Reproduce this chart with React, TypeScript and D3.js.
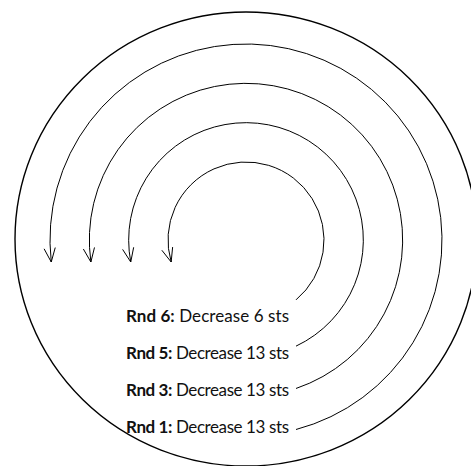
import React from "react";
import * as d3 from "d3";

// rounds listed from the innermost ring outwards
const rounds = ["Rnd 6:", "Rnd 5:", "Rnd 3:", "Rnd 1:"];
const steps = ["Decrease 6 sts", "Decrease 13 sts", "Decrease 13 sts", "Decrease 13 sts"];

const W = 471;
const H = 466;
const cx = 246;
const cy = 240;

function App() {
    const idx = d3.range(rounds.length);
    // ring radius per round
    const r = d3.scaleLinear().domain([0, rounds.length - 1]).range([78, 196]);
    // label baselines
    const ly = d3.scaleLinear().domain([0, rounds.length - 1]).range([322, 433]);

    const startDx = 50; // arcs start just right of the labels
    const tipDrop = 22; // arrow tips sit a bit under the centre line
    const wing = 15;
    const spread = (22 * Math.PI) / 180;

    const arcs = idx.map((i) => {
        const rad = r(i);
        const a0 = Math.acos(startDx / rad);
        const a1 = Math.PI - Math.asin(tipDrop / rad);
        const p = d3.path();
        p.arc(cx, cy, rad, a0, a1, true);
        // arrowhead at the end, pointing along the ccw tangent
        const tx = cx + rad * Math.cos(a1);
        const ty = cy + rad * Math.sin(a1);
        const back = Math.atan2(Math.cos(a1), -Math.sin(a1)); // reverse of travel direction
        const head = d3.path();
        head.moveTo(tx + wing * Math.cos(back - spread), ty + wing * Math.sin(back - spread));
        head.lineTo(tx, ty);
        head.lineTo(tx + wing * Math.cos(back + spread), ty + wing * Math.sin(back + spread));
        return { line: p.toString(), head: head.toString() };
    });

    return (
        <svg
            width={W}
            height={H}
            style={{ position: "absolute", left: 0, top: 0, background: "#fff" }}
        >
            <ellipse cx={cx} cy={cy - 1} rx={231} ry={227} fill="none" stroke="#000" strokeWidth={1.4} />
            {arcs.map((a, i) => (
                <g key={i} fill="none" stroke="#000" strokeWidth={1}>
                    <path d={a.line} />
                    <path d={a.head} />
                </g>
            ))}
            {idx.map((i) => (
                <text
                    key={i}
                    x={126}
                    y={ly(i)}
                    textLength={163}
                    lengthAdjust="spacing"
                    fontFamily="Lato, sans-serif"
                    fontSize={17}
                    fill="#111"
                >
                    <tspan fontWeight="bold">{rounds[i]}</tspan>
                    <tspan> {steps[i]}</tspan>
                </text>
            ))}
        </svg>
    );
}

export default App;
